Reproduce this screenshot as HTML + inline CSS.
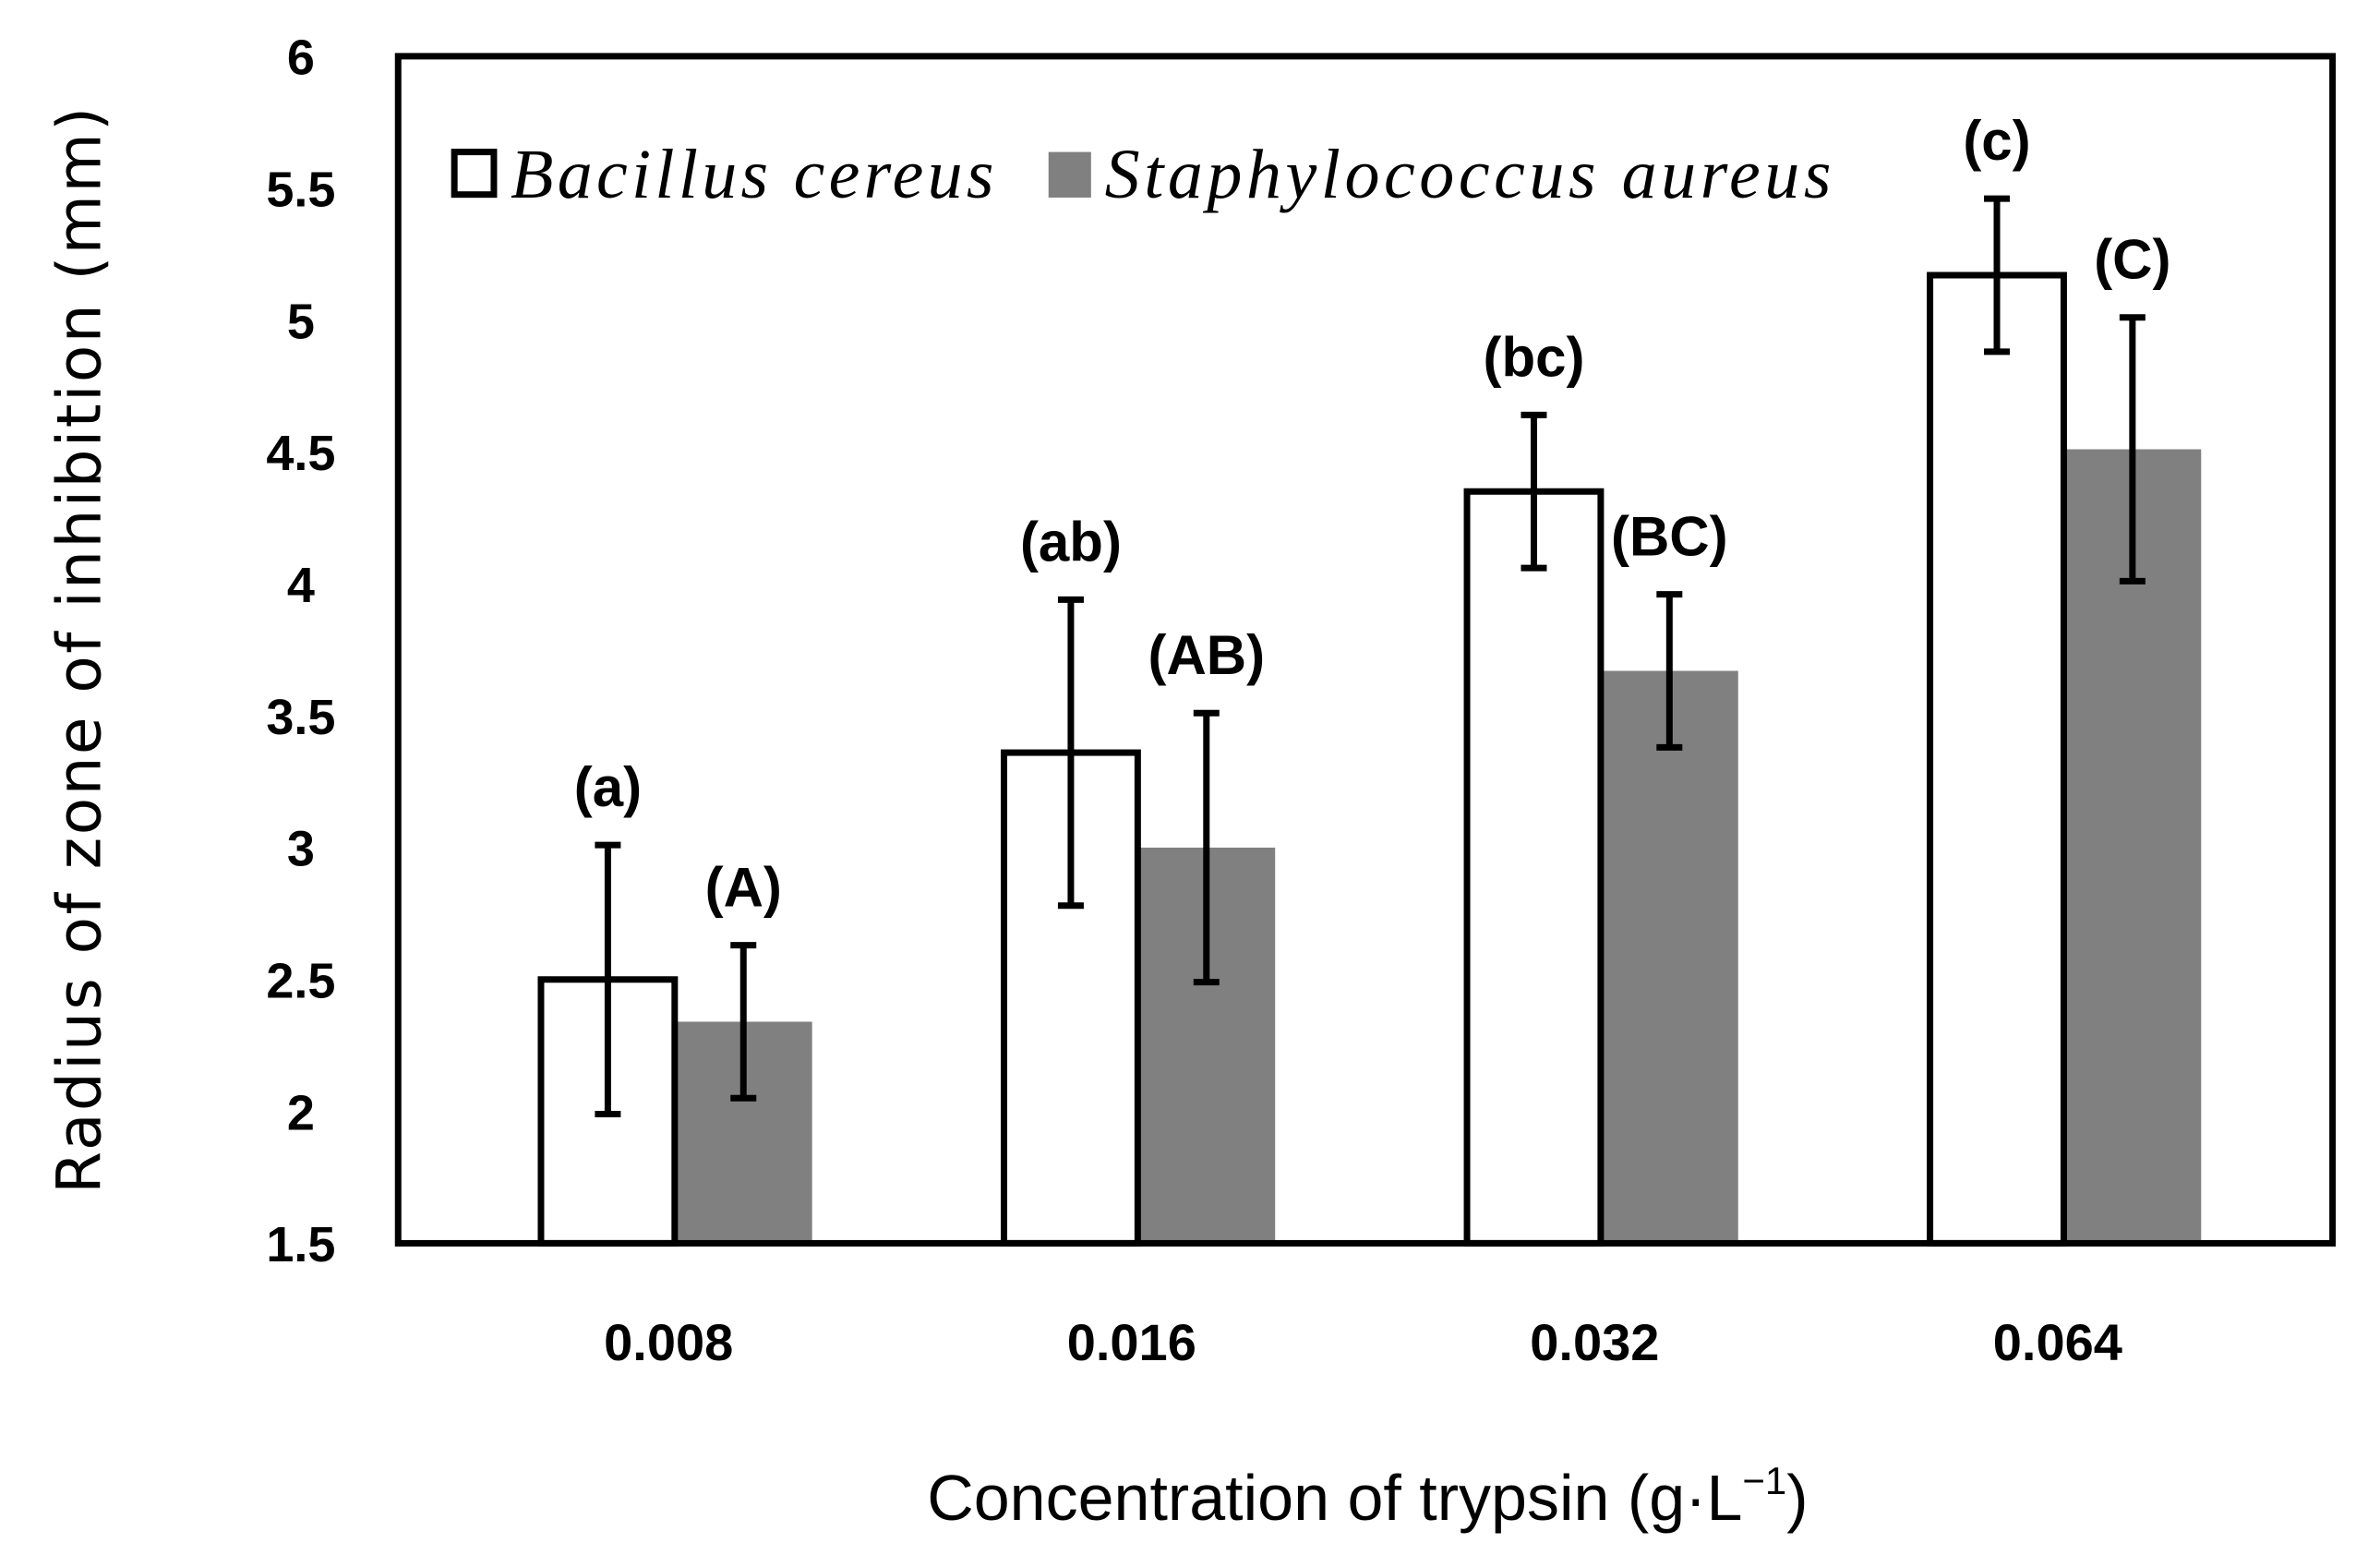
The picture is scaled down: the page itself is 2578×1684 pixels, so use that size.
<!DOCTYPE html>
<html><head><meta charset="utf-8"><style>
html,body{margin:0;padding:0;background:#fff;}
svg{display:block;}
</style></head><body>
<svg id="chart" width="2578" height="1684" viewBox="0 0 2578 1684" xmlns="http://www.w3.org/2000/svg" font-family="Liberation Sans, sans-serif"></svg>
<script>
const categories = ["0.008","0.016","0.032","0.064"];
const bacillusValues = [2.5, 3.36, 4.35, 5.17];
const bacillusErrors = [0.51, 0.58, 0.29, 0.29];
const staphValues = [2.34, 3.0, 3.67, 4.51];
const staphErrors = [0.29, 0.51, 0.29, 0.5];
const bacillusLetters = ["(a)","(ab)","(bc)","(c)"];
const staphLetters = ["(A)","(AB)","(BC)","(C)"];
const yTicks = ["1.5","2","2.5","3","3.5","4","4.5","5","5.5","6"];

const S = 1.646;
const L = 262*S, R = 1535*S, T = 37*S, B = 818*S;
const yMin = 1.5, yMax = 6;
function y(v){ return B - (v - yMin) / (yMax - yMin) * (B - T); }
function xCenter(i){ return L + 182*S + i*304.7*S; }
const barW = 88*S;

const svg = document.getElementById('chart');
const NS = "http://www.w3.org/2000/svg";
function mk(tag, attrs, parent){
  const e = document.createElementNS(NS, tag);
  for (const k in attrs) e.setAttribute(k, attrs[k]);
  (parent||svg).appendChild(e);
  return e;
}

yTicks.forEach(t=>{
  const el = mk('text',{x:198*S, y:y(parseFloat(t))+12*S, 'text-anchor':'middle','font-size':54,'font-weight':'bold',fill:'#000'});
  
  
  el.textContent = t;
});

categories.forEach((c,i)=>{
  const cx = xCenter(i);
  const g = mk('g',{});
  
  
  const sb = mk('rect',{x:cx, y:y(staphValues[i]), width:barW+4, height:B - y(staphValues[i]), fill:'#808080'}, g);
  
  
  const bb = mk('rect',{x:cx-barW, y:y(bacillusValues[i]), width:barW, height:B - y(bacillusValues[i]), fill:'#fff', stroke:'#000','stroke-width':7}, g);
  
  
  [[cx-barW/2, bacillusValues[i], bacillusErrors[i], bacillusLetters[i], 'bacillus'],
   [cx+barW/2+2, staphValues[i], staphErrors[i], staphLetters[i], 'staphylococcus']].forEach(([ex,v,e,lab,nm])=>{
    const eg = mk('g',{stroke:'#000','stroke-width':7}, g);
    
    
    mk('line',{x1:ex,x2:ex,y1:y(v+e),y2:y(v-e)}, eg);
    mk('line',{x1:ex-14,x2:ex+14,y1:y(v+e),y2:y(v+e)}, eg);
    mk('line',{x1:ex-14,x2:ex+14,y1:y(v-e),y2:y(v-e)}, eg);
    const t = mk('text',{x:ex, y:y(v+e)-42, 'text-anchor':'middle','font-size':60,'font-weight':'bold',fill:'#000'}, g);
    
    
    t.textContent = lab;
  });
  const xl = mk('text',{x:cx-4*S, y:895*S, 'text-anchor':'middle','font-size':56,'font-weight':'bold',fill:'#000'});
  
  
  xl.textContent = c;
});

const fr = mk('rect',{x:L,y:T,width:R-L,height:B-T,fill:'none',stroke:'#000','stroke-width':7});



const lg = mk('g',{});


const l1 = mk('rect',{x:299*S,y:100*S,width:26*S,height:28*S,fill:'#fff',stroke:'#000','stroke-width':7}, lg);


const t1 = mk('text',{x:336*S,y:130*S,'font-size':76,'font-style':'italic','font-family':'Liberation Serif, serif',fill:'#000',textLength:318*S}, lg);


t1.textContent = 'Bacillus cereus';
const l2 = mk('rect',{x:690*S,y:100*S,width:28*S,height:30*S,fill:'#808080'}, lg);


const t2 = mk('text',{x:727*S,y:130*S,'font-size':76,'font-style':'italic','font-family':'Liberation Serif, serif',fill:'#000',textLength:478*S}, lg);


t2.textContent = 'Staphylococcus aureus';

const yt = mk('text',{x:0,y:0,transform:`translate(${66*S},${428*S}) rotate(-90)`,'text-anchor':'middle','font-size':66,'font-family':'DejaVu Sans, sans-serif',textLength:715*S,fill:'#000'});


yt.textContent = 'Radius of zone of inhibition (mm)';
const xt = mk('text',{x:900*S,y:1000*S,'text-anchor':'middle','font-size':70,fill:'#000'});


xt.innerHTML = 'Concentration of trypsin (g·L<tspan font-size="42" dy="-28">−1</tspan><tspan dy="28">)</tspan>';
</script>
</body></html>
